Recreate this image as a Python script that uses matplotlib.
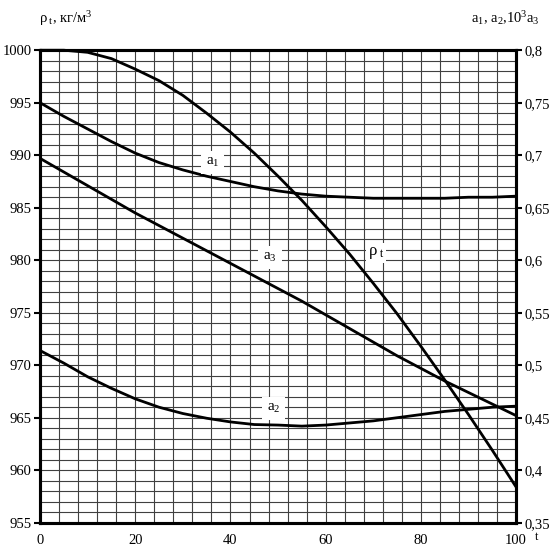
import matplotlib
matplotlib.use("Agg")
import matplotlib.pyplot as plt
from matplotlib.ticker import MultipleLocator, FixedLocator

plt.rcParams['font.family'] = ['Liberation Serif', 'DejaVu Serif']
plt.rcParams['mathtext.fontset'] = 'custom'
plt.rcParams['mathtext.rm'] = 'Liberation Serif'
plt.rcParams['mathtext.it'] = 'Liberation Serif:italic'

# temperature, deg C
t = [0, 5, 10, 15, 20, 25, 30, 35, 40, 45, 50,
     55, 60, 65, 70, 75, 80, 85, 90, 95, 100]

# density of water, kg/m3 (left axis)
rho = [1000.0, 1000.0, 999.8, 999.2, 998.2, 997.1, 995.7, 994.0, 992.2, 990.2, 988.0,
       985.7, 983.2, 980.6, 977.8, 974.9, 971.8, 968.6, 965.3, 961.9, 958.4]

# coefficients (right axis)
a1 = [0.750, 0.737, 0.725, 0.713, 0.702, 0.693, 0.686, 0.680, 0.675, 0.670, 0.666,
      0.663, 0.661, 0.660, 0.659, 0.659, 0.659, 0.659, 0.660, 0.660, 0.661]
a2 = [0.514, 0.502, 0.489, 0.478, 0.468, 0.460, 0.454, 0.4495, 0.446, 0.4435, 0.443,
      0.442, 0.443, 0.445, 0.447, 0.450, 0.453, 0.456, 0.458, 0.460, 0.461]
a3 = [0.697, 0.684, 0.671, 0.658, 0.645, 0.633, 0.621, 0.609, 0.597, 0.585, 0.573,
      0.561, 0.548, 0.535, 0.522, 0.509, 0.497, 0.485, 0.474, 0.463, 0.452]

x_ticks = [0, 20, 40, 60, 80, 100]
left_ticks = [955, 960, 965, 970, 975, 980, 985, 990, 995, 1000]
right_ticks = [0.35, 0.4, 0.45, 0.5, 0.55, 0.6, 0.65, 0.7, 0.75, 0.8]
right_labels = ['0,35', '0,4', '0,45', '0,5', '0,55', '0,6', '0,65', '0,7', '0,75', '0,8']

fig = plt.figure(figsize=(5.52, 5.5), dpi=100)
ax = fig.add_axes([0.0725, 0.0496, 0.8625, 0.8591])
ax2 = ax.twinx()

ax.set_xlim(0, 100)
ax.set_ylim(955, 1000)
ax2.set_ylim(0.35, 0.8)

# grid
ax.xaxis.set_minor_locator(MultipleLocator(4))
ax.yaxis.set_minor_locator(MultipleLocator(1))
ax.grid(which='both', color='0.25', lw=0.8)
ax.set_axisbelow(True)

lw = 2.0
ax.plot(t, rho, color='black', lw=lw, solid_capstyle='butt', clip_on=False, zorder=3)
ax2.plot(t, a1, color='black', lw=lw, solid_capstyle='butt')
ax2.plot(t, a2, color='black', lw=lw, solid_capstyle='butt')
ax2.plot(t, a3, color='black', lw=lw, solid_capstyle='butt')

ax.xaxis.set_major_locator(FixedLocator(x_ticks))
ax.set_xticklabels([str(v) for v in x_ticks], fontsize=10.5)
ax.yaxis.set_major_locator(FixedLocator(left_ticks))
ax.set_yticklabels([str(v) for v in left_ticks], fontsize=10.5)
ax2.yaxis.set_major_locator(FixedLocator(right_ticks))
ax2.set_yticklabels(right_labels, fontsize=10.5)

ax.tick_params(axis='x', which='both', length=0, pad=8)
ax.tick_params(axis='y', which='major', length=4, width=1.5, pad=2)
ax.tick_params(axis='y', which='minor', length=0)
ax2.tick_params(axis='y', which='major', length=4, width=1.5, pad=2)

for a in (ax, ax2):
    for s in a.spines.values():
        s.set_linewidth(2.2)

box = dict(facecolor='white', edgecolor='none', pad=3.5)
box_small = dict(facecolor='white', edgecolor='none', pad=1.5)
ax2.text(36.2, 0.693, r'$\mathrm{a}_1$', fontsize=11, ha='center', va='center', bbox=box, zorder=5)
ax2.text(48.3, 0.603, r'$\mathrm{a}_3$', fontsize=11, ha='center', va='center', bbox=box, zorder=5)
ax2.text(70.6, 0.607, r'$\mathrm{\rho}_{\ \mathrm{t}}$', fontsize=12, ha='center', va='center', bbox=box_small, zorder=5)
ax2.text(49.0, 0.459, r'$\mathrm{a}_2$', fontsize=11, ha='center', va='center', bbox=box, zorder=5)

fig.text(0.07, 0.967, r'$\mathrm{\rho}_{\ \mathrm{t}}$, кг/м$^3$', fontsize=10.5, ha='left', va='center')
fig.text(0.915, 0.967, r'$\mathrm{a}_1$, $\mathrm{a}_2$,$10^3\mathrm{a}_3$', fontsize=10.5, ha='center', va='center')
fig.text(0.972, 0.024, 't', fontsize=9, ha='center', va='center')

fig.savefig('out.png', dpi=100)
